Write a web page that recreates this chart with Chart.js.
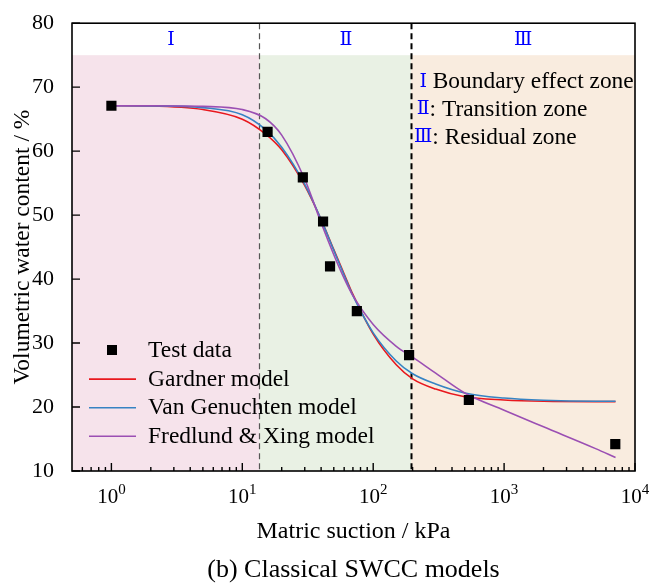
<!DOCTYPE html>
<html>
<head>
<meta charset="utf-8">
<script src="https://cdn.jsdelivr.net/npm/chart.js@4.4.1/dist/chart.umd.min.js"></script>
<style>
  html, body { margin: 0; padding: 0; background: #fff; }
</style>
</head>
<body>
<canvas id="swcc" width="660" height="585"></canvas>
<script>
// measured points (matric suction in kPa, water content in %)
const testSuction = [1.0, 15.6, 29, 41.4, 46.8, 75, 188, 538, 7070];
const testWater = [67.1, 63.0, 55.9, 49.0, 42.0, 35.0, 28.1, 21.1, 14.2];

// fitted curves at these suctions
const curveSuction = [1, 2, 5, 10, 15, 20, 30, 40, 50, 60, 70, 100, 150, 200, 300, 500, 1000, 2000, 5000, 7100];
const gardner = [67.1, 67.05, 66.5, 65.0, 62.7, 60.2, 54.6, 49.3, 44.6, 40.8, 37.6, 31.4, 26.6, 24.4, 22.8, 21.6, 21.1, 20.9, 20.85, 20.85];
const vanGenuchten = [67.1, 67.08, 66.8, 65.7, 63.4, 60.6, 54.8, 49.3, 44.5, 40.6, 37.4, 31.6, 27.2, 25.2, 23.6, 22.2, 21.4, 21.05, 20.9, 20.9];
const fredlundXing = [67.1, 67.1, 67.0, 66.5, 65.1, 62.5, 55.6, 48.8, 43.8, 40.1, 37.4, 32.9, 29.5, 27.8, 25.3, 22.2, 19.5, 16.9, 13.5, 12.1];

// zones
const zoneEdges = [13.5, 195];
const zoneTop = 75;
const zoneNames = ["Ⅰ", "Ⅱ", "Ⅲ"];
const zoneLabelAt = [2.85, 62, 1400];
const zoneNotes = [" Boundary effect zone", ": Transition zone", ": Residual zone"];

const seriesNames = ["Test data", "Fredlund & Xing model", "Van Genuchten model", "Gardner model"];
const legendOrder = [0, 3, 2, 1];
const chartTitle = "(b) Classical SWCC models";

const SERIF = '"Liberation Serif", "DejaVu Serif", serif';
const ROMAN = '"DejaVu Serif", "Liberation Serif", serif';
const font = (size, fam = SERIF) => `${size}px ${fam}`;
const zoneColors = ["#f6e3eb", "#e9f1e4", "#f9ecdf"];
const sup = ["0", "1", "2", "3", "4"];

const pts = (xs, ys) => xs.map((v, i) => ({ x: v, y: ys[i] }));

const curve = (label, data, color) => ({
  label,
  data: pts(curveSuction, data),
  showLine: true,
  borderColor: color,
  backgroundColor: color,
  borderWidth: 1.6,
  pointRadius: 0,
  cubicInterpolationMode: "monotone",
});

const isDecade = (v) => {
  const e = Math.log10(v);
  return Math.abs(e - Math.round(e)) < 1e-9;
};

const decor = {
  id: "decor",
  beforeDatasetsDraw(chart) {
    const { ctx, chartArea: a, scales: { x, y } } = chart;
    ctx.save();
    const edges = [x.min, ...zoneEdges, x.max];
    const yTop = y.getPixelForValue(zoneTop);
    for (let i = 0; i < zoneColors.length; i++) {
      const x0 = x.getPixelForValue(edges[i]);
      const x1 = x.getPixelForValue(edges[i + 1]);
      ctx.fillStyle = zoneColors[i];
      ctx.fillRect(x0, yTop, x1 - x0, a.bottom - yTop);
    }
    // zone boundaries
    zoneEdges.forEach((e, i) => {
      const px = Math.round(x.getPixelForValue(e)) + 0.5;
      ctx.beginPath();
      ctx.strokeStyle = i === 0 ? "#555" : "#000";
      ctx.lineWidth = i === 0 ? 1.2 : 2;
      ctx.setLineDash([6, 4]);
      ctx.moveTo(px, a.top);
      ctx.lineTo(px, a.bottom);
      ctx.stroke();
    });
    ctx.restore();
  },
  afterDraw(chart) {
    const { ctx, chartArea: a, scales: { x, y } } = chart;
    ctx.save();
    // frame
    ctx.strokeStyle = "#000";
    ctx.lineWidth = 1.6;
    ctx.strokeRect(a.left, a.top, a.right - a.left, a.bottom - a.top);
    // inward ticks
    ctx.lineWidth = 1.4;
    ctx.beginPath();
    x.ticks.forEach((t) => {
      const px = x.getPixelForValue(t.value);
      const len = isDecade(t.value) ? 8 : 4;
      ctx.moveTo(px, a.bottom);
      ctx.lineTo(px, a.bottom - len);
    });
    y.ticks.forEach((t) => {
      const py = y.getPixelForValue(t.value);
      ctx.moveTo(a.left, py);
      ctx.lineTo(a.left + 8, py);
    });
    ctx.stroke();

    // decade labels with raised exponent
    ctx.fillStyle = "#000";
    ctx.textAlign = "left";
    ctx.textBaseline = "alphabetic";
    x.ticks.forEach((t) => {
      if (!isDecade(t.value)) return;
      const e = sup[Math.round(Math.log10(t.value))];
      ctx.font = font(21);
      const wb = ctx.measureText("10").width;
      ctx.font = font(15);
      const we = ctx.measureText(e).width;
      const px = x.getPixelForValue(t.value) - (wb + we) / 2;
      const base = a.bottom + 32;
      ctx.font = font(21);
      ctx.fillText("10", px, base);
      ctx.font = font(15);
      ctx.fillText(e, px + wb, base - 9);
    });

    // zone labels in the top band
    ctx.fillStyle = "#0000ff";
    ctx.font = font(19, ROMAN);
    ctx.textAlign = "center";
    ctx.textBaseline = "middle";
    const bandY = y.getPixelForValue((zoneTop + 80) / 2) + 1;
    zoneNames.forEach((n, i) => {
      ctx.fillText(n, x.getPixelForValue(zoneLabelAt[i]), bandY);
    });

    // zone notes, top right
    const noteX = x.getPixelForValue(zoneEdges[1]) + 12;
    const noteY0 = y.getPixelForValue(70.85);
    const noteStep = y.getPixelForValue(66.5) - y.getPixelForValue(70.85);
    zoneNotes.forEach((txt, i) => {
      const py = noteY0 + i * noteStep;
      ctx.font = font(19, ROMAN);
      ctx.fillStyle = "#0000ff";
      ctx.textAlign = "center";
      ctx.fillText(zoneNames[i], noteX, py);
      const w = ctx.measureText(zoneNames[i]).width;
      ctx.font = font(23.4);
      ctx.fillStyle = "#000";
      ctx.textAlign = "left";
      ctx.fillText(txt, noteX + w / 2, py);
    });

    // legend, lower left
    const ds = chart.data.datasets;
    ctx.font = font(23.5);
    ctx.textAlign = "left";
    const rowY0 = a.bottom - 121;
    legendOrder.forEach((k, i) => {
      const d = ds[k];
      const py = rowY0 + i * 28.6;
      if (k === 0) {
        ctx.fillStyle = "#000";
        ctx.fillRect(a.left + 35, py - 5, 10, 10);
      } else {
        ctx.strokeStyle = d.borderColor;
        ctx.lineWidth = 1.6;
        ctx.beginPath();
        ctx.moveTo(a.left + 17, py + 0.5);
        ctx.lineTo(a.left + 64, py + 0.5);
        ctx.stroke();
      }
      ctx.fillStyle = "#000";
      ctx.fillText(d.label, a.left + 76, py + 1);
    });

    // caption under the axis
    ctx.font = font(26);
    ctx.textAlign = "center";
    ctx.fillText(chartTitle, (a.left + a.right) / 2, 570);
    ctx.restore();
  },
};

new Chart(document.getElementById("swcc").getContext("2d"), {
  type: "scatter",
  data: {
    datasets: [
      {
        label: seriesNames[0],
        data: pts(testSuction, testWater),
        pointStyle: "rect",
        pointRadius: 7.2,
        pointHoverRadius: 7.2,
        backgroundColor: "#000",
        borderColor: "#000",
        borderWidth: 0,
        showLine: false,
      },
      curve(seriesNames[1], fredlundXing, "#9b4fb3"),
      curve(seriesNames[2], vanGenuchten, "#3683c3"),
      curve(seriesNames[3], gardner, "#e8181e"),
    ],
  },
  options: {
    responsive: false,
    animation: false,
    layout: { padding: { top: 16, right: 25, left: 0, bottom: 31 } },
    scales: {
      x: {
        type: "logarithmic",
        min: 0.5,
        max: 10000,
        grid: { display: false },
        border: { display: false },
        afterBuildTicks(scale) {
          const ticks = [];
          for (let d = -1; d <= 4; d++) {
            for (let m = 1; m <= 9; m++) {
              const v = m * Math.pow(10, d);
              if (v > 0.55 && v <= 10000.001) ticks.push({ value: v });
            }
          }
          scale.ticks = ticks;
        },
        afterFit(scale) {
          scale.height = 83;
        },
        ticks: {
          autoSkip: false,
          maxRotation: 0,
          callback: () => "",
        },
        title: {
          display: true,
          text: "Matric suction / kPa",
          color: "#000",
          font: { family: SERIF, size: 24 },
          padding: { top: 0, bottom: 8 },
        },
      },
      y: {
        min: 10,
        max: 80,
        grid: { display: false },
        border: { display: false },
        afterFit(scale) {
          scale.width = 72;
        },
        ticks: {
          stepSize: 10,
          padding: 10,
          color: "#000",
          font: { family: SERIF, size: 22 },
        },
        title: {
          display: true,
          text: "Volumetric water content / %",
          color: "#000",
          font: { family: SERIF, size: 23.5 },
          padding: { top: 9, bottom: 0 },
        },
      },
    },
    plugins: {
      legend: { display: false },
      tooltip: { enabled: false },
      title: { display: false },
    },
  },
  plugins: [decor],
});
</script>
</body>
</html>
